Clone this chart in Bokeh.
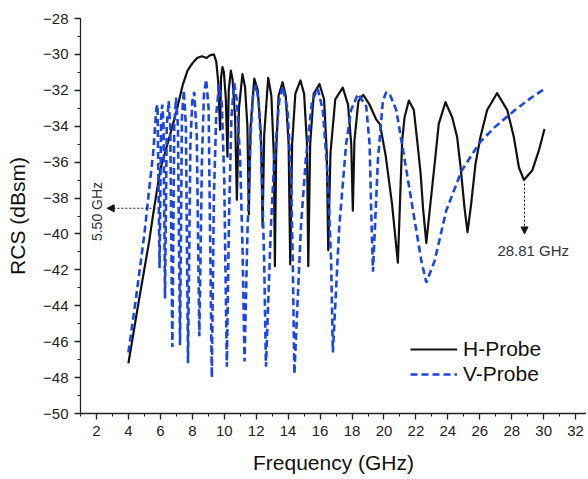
from math import pi
from bokeh.plotting import figure
from bokeh.models import (Range1d, SingleIntervalTicker, Legend, LegendItem,
                          Arrow, NormalHead, Label)
from bokeh.embed import file_html
from bokeh.resources import INLINE

# ---------------- data ----------------
h_freq = [4.0, 4.6, 5.3, 5.6, 6.0, 6.6, 7.0, 7.4, 7.7, 8.0, 8.3, 8.6, 8.9, 9.1, 9.35,
          9.5, 9.62, 9.74, 9.8, 9.89, 9.98, 10.1, 10.2, 10.28, 10.41, 10.52, 10.68, 10.79,
          10.92, 11.14, 11.3, 11.45, 11.54, 11.65, 11.88, 12.1, 12.3, 12.4, 12.5, 12.75,
          12.95, 13.1, 13.17, 13.25, 13.4, 13.65, 13.85, 14.03, 14.13, 14.25, 14.45, 14.77,
          15.0, 15.18, 15.26, 15.38, 15.6, 15.96, 16.25, 16.42, 16.51, 16.65, 16.95, 17.42,
          17.75, 17.95, 18.05, 18.15, 18.4, 18.7, 19.1, 19.5, 19.75, 20.1, 20.5, 20.87,
          21.14, 21.29, 21.56, 21.87, 22.08, 22.29, 22.45, 22.65, 22.85, 23.22, 23.43, 23.85,
          24.27, 24.58, 24.8, 25.05, 25.23, 25.45, 25.73, 26.04, 26.46, 27.08, 27.72, 28.13,
          28.45, 28.76, 29.28, 29.7, 30.05]
h_rcs = [-47.2, -44.0, -40.4, -38.6, -36.4, -34.5, -33.2, -31.7, -30.9, -30.5, -30.2, -30.1, -30.2, -30.05, -30.0,
         -30.4, -31.5, -34.2, -31.3, -30.7, -31.0, -32.5, -35.7, -32.0, -30.9, -31.4, -33.5, -38.1,
         -33.0, -31.1, -31.8, -34.0, -38.9, -34.0, -31.35, -32.0, -34.5, -39.6, -34.5, -31.3,
         -32.3, -35.5, -41.8, -35.5, -32.3, -31.55, -32.3, -35.0, -41.7, -35.0, -32.2, -31.45,
         -32.2, -35.0, -41.8, -35.0, -32.2, -31.65, -32.5, -35.5, -40.9, -35.5, -32.5, -31.85,
         -32.8, -35.0, -38.7, -34.8, -32.6, -32.25, -32.8, -33.6, -33.9, -35.6, -38.3, -41.6,
         -34.8, -33.5, -32.57, -33.1, -34.8, -36.6, -38.6, -40.5, -38.8, -35.7, -33.87, -32.66,
         -33.5, -34.6, -36.3, -38.6, -39.9, -38.4, -36.1, -34.6, -33.1, -32.16, -33.1, -34.6,
         -36.3, -36.99, -36.47, -35.35, -34.15]

v_freq = [4.0, 4.5, 5.0, 5.3, 5.55, 5.75, 5.82, 5.95, 6.05, 6.12, 6.2, 6.29, 6.4, 6.52, 6.62,
          6.75, 6.87, 6.98, 7.1, 7.23, 7.35, 7.47, 7.6, 7.73, 7.88, 8.0, 8.12, 8.28, 8.44,
          8.6, 8.73, 8.87, 9.02, 9.22, 9.35, 9.5, 9.68, 9.85, 10.0, 10.16, 10.3, 10.45,
          10.62, 10.8, 11.0, 11.15, 11.27, 11.45, 11.65, 11.8, 11.98, 12.15, 12.3, 12.5,
          12.61, 12.92, 13.13, 13.44, 13.66, 13.97, 14.18, 14.29, 14.39, 14.8, 15.1, 15.5,
          15.85, 16.17, 16.48, 16.69, 16.8, 17.2, 17.63, 17.94, 18.37, 18.89, 19.1, 19.2,
          19.31, 19.62, 19.93, 20.14, 20.4, 20.77, 21.3, 21.82, 22.34, 22.65, 23.17, 23.9,
          24.85, 26.0, 26.94, 28.2, 29.24, 30.08]
v_rcs = [-46.6, -43.4, -40.0, -37.5, -35.5, -33.0, -32.8, -41.9, -33.5, -32.8, -34.0, -43.6, -34.0, -32.6, -34.0,
         -46.3, -34.0, -32.4, -34.0, -46.2, -33.5, -32.0, -34.0, -47.2, -35.0, -32.6, -32.1, -34.5, -45.7,
         -36.0, -32.2, -31.4, -33.0, -48.0, -38.0, -33.3, -31.7, -32.8, -37.0, -47.4, -39.0, -33.5,
         -31.6, -32.6, -36.0, -41.0, -47.1, -40.0, -34.5, -32.3, -31.7, -32.6, -35.0, -41.5,
         -47.4, -39.6, -35.9, -32.6, -31.8, -33.1, -36.8, -41.5, -47.8, -39.6, -35.9, -32.6,
         -31.9, -33.1, -36.8, -41.5, -46.6, -39.6, -35.0, -33.1, -32.2, -32.9, -35.0, -38.7,
         -42.1, -35.9, -32.6, -32.1, -32.3, -33.1, -35.9, -38.7, -41.5, -42.7, -41.5, -38.7,
         -36.5, -34.9, -34.05, -33.1, -32.4, -31.9]

x_ticks = [2, 4, 6, 8, 10, 12, 14, 16, 18, 20, 22, 24, 26, 28, 30, 32]
x_tick_labels = ["2", "4", "6", "8", "10", "12", "14", "16", "18", "20", "22", "24",
                 "26", "28", "30", "32"]
y_ticks = [-50, -48, -46, -44, -42, -40, -38, -36, -34, -32, -30, -28]
y_tick_labels = ["\u221250", "\u221248", "\u221246", "\u221244", "\u221242", "\u221240",
                 "\u221238", "\u221236", "\u221234", "\u221232", "\u221230", "\u221228"]

series_names = ["H-Probe", "V-Probe"]

# annotations
ann_left_text = "5.50 GHz"
ann_left_arrow = dict(x_start=5.69, y_start=-38.57, x_end=2.67, y_end=-38.57)
ann_left_label_pos = (2.04, -38.75)
ann_right_text = "28.81 GHz"
ann_right_arrow = dict(x_start=28.8, y_start=-37.2, x_end=28.8, y_end=-40.0)
ann_right_label_pos = (27.1, -40.92)

FONT = "Liberation Sans"

p = figure(frame_width=506, frame_height=395,
           x_range=Range1d(1.0, 32.68), y_range=Range1d(-50, -28),
           output_backend="svg", toolbar_location=None,
           min_border_left=80, min_border_right=0, min_border_top=18,
           min_border_bottom=64)
p.outline_line_color = None
p.grid.visible = False
p.background_fill_color = "white"

r_h = p.line(h_freq, h_rcs, line_color="#111111", line_width=2.2, line_join="round")
r_v = p.line(v_freq, v_rcs, line_color="#1a45e8", line_width=2.6, line_dash="7 4")

for ax, ticks, labels in ((p.xaxis[0], x_ticks, x_tick_labels),
                          (p.yaxis[0], y_ticks, y_tick_labels)):
    ax.ticker = SingleIntervalTicker(interval=2, num_minor_ticks=2)
    ax.major_label_overrides = {t: l for t, l in zip(ticks, labels)}
    ax.axis_line_color = "#222222"
    ax.axis_line_width = 1.3
    ax.major_tick_line_color = "#222222"
    ax.minor_tick_line_color = "#222222"
    ax.major_tick_line_width = 1.3
    ax.minor_tick_line_width = 1.1
    ax.major_tick_out = 6
    ax.major_tick_in = 0
    ax.minor_tick_out = 3
    ax.minor_tick_in = 0
    ax.major_label_text_font = FONT
    ax.major_label_text_font_size = "15px"
    ax.major_label_text_color = "#222222"
    ax.axis_label_text_font = FONT
    ax.axis_label_text_font_size = "21px"
    ax.axis_label_text_font_style = "normal"
    ax.axis_label_text_color = "#111111"

p.xaxis.axis_label = "Frequency (GHz)"
p.yaxis.axis_label = "RCS (dBsm)"
p.xaxis.major_label_standoff = 6
p.xaxis.axis_label_standoff = 12
p.yaxis.major_label_standoff = 6
p.yaxis.axis_label_standoff = 11

legend = Legend(items=[LegendItem(label=series_names[0], renderers=[r_h]),
                       LegendItem(label=series_names[1], renderers=[r_v])],
                location=(330, 27), border_line_color=None, background_fill_alpha=0,
                padding=0, margin=0, glyph_width=47, glyph_height=20, spacing=1,
                label_standoff=6, label_text_font=FONT, label_text_font_size="21px",
                label_text_color="#111111", label_height=20)
p.add_layout(legend)

p.add_layout(Arrow(end=NormalHead(size=7, fill_color="#111111", line_color="#111111"),
                   line_dash="2 2", line_width=1, line_color="#111111", **ann_left_arrow))
p.add_layout(Arrow(end=NormalHead(size=7, fill_color="#111111", line_color="#111111"),
                   line_dash="2 2", line_width=1, line_color="#111111", **ann_right_arrow))

p.add_layout(Label(x=ann_left_label_pos[0], y=ann_left_label_pos[1], text=ann_left_text,
                   angle=pi / 2, text_align="center", text_baseline="middle",
                   text_font=FONT, text_font_size="14px", text_color="#333333"))
p.add_layout(Label(x=ann_right_label_pos[0], y=ann_right_label_pos[1], text=ann_right_text,
                   text_align="left", text_baseline="middle",
                   text_font=FONT, text_font_size="15px", text_color="#333333"))

open("out.html", "w").write(file_html(p, INLINE))
